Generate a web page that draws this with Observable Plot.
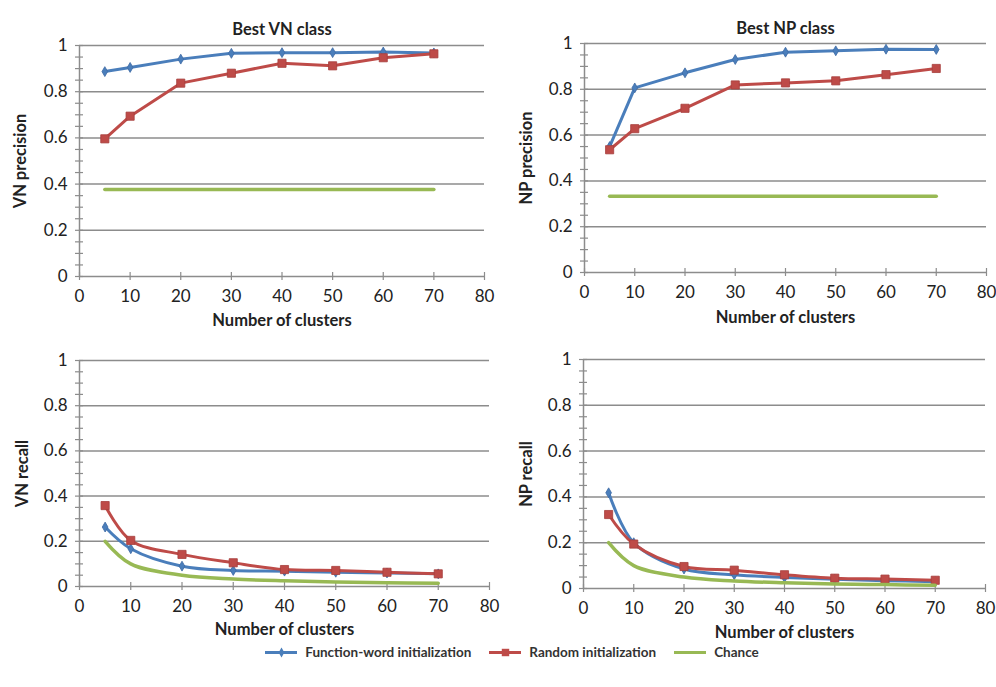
<!DOCTYPE html>
<html>
<head>
<meta charset="utf-8">
<script src="https://cdn.jsdelivr.net/npm/d3@7"></script>
<script src="https://cdn.jsdelivr.net/npm/@observablehq/plot@0.6"></script>
<style>
  html, body { margin: 0; padding: 0; background: #fff; }
  #root { position: relative; width: 996px; height: 687px; background: #fff; font-family: Lato, "Open Sans", sans-serif; }
  .panel { position: absolute; }
  #legend { position: absolute; left: 14px; top: 641px; width: 996px; height: 22px; display: flex; justify-content: center; align-items: center; font-family: Lato, sans-serif; font-size: 13.5px; font-weight: bold; color: #333; }
  .item { display: flex; align-items: center; margin: 0 4px; }
  .item svg { margin-right: 8px; }
</style>
</head>
<body>
<div id="root"><div id="legend"></div></div>
<script>
// ---- data ----
const clusters = [5, 10, 20, 30, 40, 50, 60, 70];

const vnPrecisionFW     = [0.887, 0.905, 0.941, 0.966, 0.969, 0.969, 0.972, 0.968];
const vnPrecisionRandom = [0.596, 0.694, 0.837, 0.880, 0.923, 0.912, 0.947, 0.964];
const vnPrecisionChance = [0.377, 0.377, 0.377, 0.377, 0.377, 0.377, 0.377, 0.377];

const npPrecisionFW     = [0.550, 0.806, 0.872, 0.930, 0.962, 0.968, 0.975, 0.974];
const npPrecisionRandom = [0.536, 0.628, 0.717, 0.819, 0.828, 0.837, 0.864, 0.891];
const npPrecisionChance = [0.333, 0.333, 0.333, 0.333, 0.333, 0.333, 0.333, 0.333];

const vnRecallFW     = [0.263, 0.167, 0.090, 0.071, 0.068, 0.063, 0.060, 0.056];
const vnRecallRandom = [0.358, 0.204, 0.142, 0.105, 0.075, 0.071, 0.063, 0.056];
const vnRecallChance = [0.200, 0.100, 0.050, 0.033, 0.025, 0.020, 0.017, 0.014];

const npRecallFW     = [0.418, 0.200, 0.085, 0.060, 0.048, 0.040, 0.034, 0.030];
const npRecallRandom = [0.323, 0.194, 0.096, 0.080, 0.060, 0.045, 0.041, 0.036];
const npRecallChance = [0.200, 0.100, 0.050, 0.033, 0.025, 0.020, 0.017, 0.014];

const seriesNames = ["Function-word initialization", "Random initialization", "Chance"];
const seriesColors = ["#4A7EBB", "#BE4B48", "#98B954"];

const xTicks = [0, 10, 20, 30, 40, 50, 60, 70, 80];
const yTicks = [0, 0.2, 0.4, 0.6, 0.8, 1];
const yMinorTicks = d3.range(0, 21).map(i => i / 20);
const titles = ["Best VN class", "Best NP class", "", ""];
const yLabels = ["VN precision", "NP precision", "VN recall", "NP recall"];
const xLabel = "Number of clusters";

// ---- drawing ----
const GRID = "#8c8c8c";
const LABEL_SIZE = 16.5;
const root = document.getElementById("root");

function rowsOf(values) { return clusters.map((c, i) => ({x: c, y: values[i]})); }

function panel(cfg) {
  const {fw, rnd, chance, title, ylabel, curve, left, top, width, height, ml, mr, mt, mb, titleDy, xlabDy, ylabDx} = cfg;
  const fwRows = rowsOf(fw), rndRows = rowsOf(rnd), chRows = rowsOf(chance);
  const marks = [
    Plot.gridY(yTicks.slice(1), {stroke: GRID, strokeOpacity: 1, strokeWidth: 1.5}),
    Plot.ruleX([0], {stroke: GRID, strokeWidth: 1.5}),
    Plot.ruleY([0], {stroke: GRID, strokeWidth: 1.5}),
    // minor ticks crossing the y axis
    Plot.axisY({ticks: yMinorTicks, tickSize: 4, tickFormat: () => "", stroke: GRID, strokeWidth: 1.2, label: null}),
    Plot.axisY({ticks: yMinorTicks, tickSize: 4, tickFormat: () => "", stroke: GRID, strokeWidth: 1.2, label: null, dx: 4}),
    // y tick labels
    Plot.axisY({ticks: yTicks, tickSize: 0, tickPadding: 12, tickFormat: d => String(d), label: null, fill: "#222"}),
    // x ticks crossing axis
    Plot.axisX({ticks: xTicks, tickSize: 4, tickFormat: () => "", stroke: GRID, strokeWidth: 1.2, label: null}),
    Plot.axisX({ticks: xTicks, tickSize: 4, tickFormat: () => "", stroke: GRID, strokeWidth: 1.2, label: null, dy: -4}),
    Plot.axisX({ticks: xTicks, tickSize: 0, tickPadding: 13, tickFormat: d => String(d), label: null, fill: "#222"}),
    // series
    Plot.line(fwRows, {x: "x", y: "y", stroke: seriesColors[0], strokeWidth: 3, curve}),
    Plot.dot(fwRows, {x: "x", y: "y", symbol: "diamond", r: 3, fill: seriesColors[0], stroke: "#3d6aa3", strokeWidth: 0.8}),
    Plot.line(rndRows, {x: "x", y: "y", stroke: seriesColors[1], strokeWidth: 3, curve}),
    Plot.dot(rndRows, {x: "x", y: "y", symbol: "square", r: 4.6, fill: seriesColors[1], stroke: "#a63f3c", strokeWidth: 0.8}),
    Plot.line(chRows, {x: "x", y: "y", stroke: seriesColors[2], strokeWidth: 3.5, curve}),
    // labels
    Plot.text([ylabel], {frameAnchor: "left", dx: ylabDx, rotate: -90, textAnchor: "middle", fontWeight: "bold", fontSize: LABEL_SIZE, fill: "#222"}),
    Plot.text([xLabel], {frameAnchor: "bottom", dy: xlabDy, textAnchor: "middle", fontWeight: "bold", fontSize: LABEL_SIZE, fill: "#222"})
  ];
  if (title) marks.push(Plot.text([title], {frameAnchor: "top", dy: titleDy, fontWeight: "bold", fontSize: LABEL_SIZE, fill: "#222"}));
  const svg = Plot.plot({
    width, height,
    marginLeft: ml, marginRight: mr, marginTop: mt, marginBottom: mb,
    style: {fontFamily: "Lato, 'Open Sans', sans-serif", fontSize: "17px", background: "transparent", overflow: "visible"},
    x: {domain: [0, 80]},
    y: {domain: [0, 1]},
    marks
  });
  svg.classList.add("panel");
  svg.style.left = left + "px";
  svg.style.top = top + "px";
  root.appendChild(svg);
}

panel({fw: vnPrecisionFW, rnd: vnPrecisionRandom, chance: vnPrecisionChance, title: titles[0], ylabel: yLabels[0], curve: "linear",
  left: 0, top: 0, width: 498, height: 335, ml: 79, mr: 14, mt: 45, mb: 59, titleDy: -22, xlabDy: 49, ylabDx: -59});
panel({fw: npPrecisionFW, rnd: npPrecisionRandom, chance: npPrecisionChance, title: titles[1], ylabel: yLabels[1], curve: "linear",
  left: 498, top: 0, width: 498, height: 335, ml: 86, mr: 10, mt: 43, mb: 63, titleDy: -21, xlabDy: 50, ylabDx: -58});
panel({fw: vnRecallFW, rnd: vnRecallRandom, chance: vnRecallChance, title: titles[2], ylabel: yLabels[2], curve: "catmull-rom",
  left: 0, top: 335, width: 498, height: 320, ml: 79, mr: 9, mt: 25, mb: 69, titleDy: 0, xlabDy: 48, ylabDx: -57});
panel({fw: npRecallFW, rnd: npRecallRandom, chance: npRecallChance, title: titles[3], ylabel: yLabels[3], curve: "catmull-rom",
  left: 498, top: 335, width: 498, height: 320, ml: 85, mr: 11, mt: 24, mb: 67, titleDy: 0, xlabDy: 49, ylabDx: -57});

// ---- legend ----
const legend = document.getElementById("legend");
const symbols = ["diamond", "square", null];
seriesNames.forEach((name, i) => {
  const item = document.createElement("div");
  item.className = "item";
  const sw = Plot.plot({
    width: 32, height: 14, margin: 0,
    x: {domain: [0, 1], axis: null}, y: {domain: [0, 1], axis: null},
    style: {background: "transparent", overflow: "visible"},
    marks: [
      Plot.ruleY([0.5], {x1: 0, x2: 1, stroke: seriesColors[i], strokeWidth: 3}),
      ...(symbols[i] ? [Plot.dot([{x: 0.5, y: 0.5}], {x: "x", y: "y", symbol: symbols[i], r: symbols[i] === "square" ? 4.2 : 3, fill: seriesColors[i]})] : [])
    ]
  });
  item.appendChild(sw);
  const label = document.createElement("span");
  label.textContent = name;
  item.appendChild(label);
  if (i > 0) item.style.marginLeft = "14px";
  legend.appendChild(item);
});
</script>
</body>
</html>
